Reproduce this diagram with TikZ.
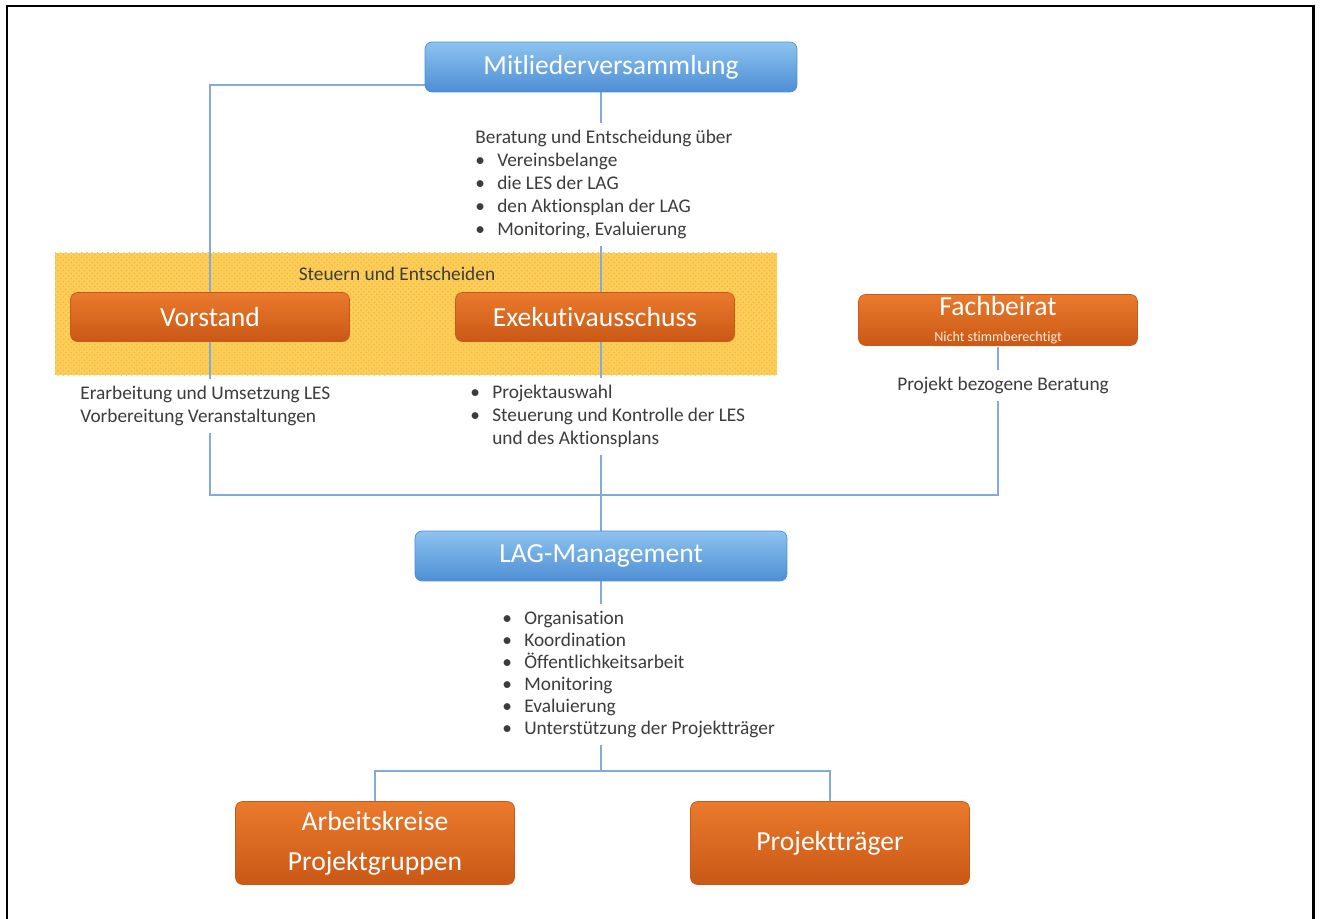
\documentclass[tikz,border=0pt]{standalone}
\usepackage{fontspec}
\setmainfont{Carlito}[Ligatures=CommonOff]
\usetikzlibrary{positioning,patterns}
\pgfdeclarelayer{back}
\pgfdeclarelayer{lines}
\pgfsetlayers{back,lines,main}
\definecolor{linkblue}{RGB}{130,170,218}
\definecolor{blueTop}{RGB}{140,195,240}
\definecolor{blueBot}{RGB}{78,142,212}
\definecolor{orangeTop}{RGB}{234,122,44}
\definecolor{orangeBot}{RGB}{202,88,22}
\definecolor{steuerGelb}{RGB}{250,206,88}
\definecolor{infoGray}{RGB}{60,60,60}
\newcommand{\bul}{\makebox[12.5pt][l]{\textbullet}}
\begin{document}
\begin{tikzpicture}[x=0.02cm, y=-0.02cm,
  box node/.style={rounded corners=4pt, inner sep=0pt, text=white, align=center, font=\fontsize{15.7}{23}\selectfont},
  blue node/.style={box node, top color=blueTop, bottom color=blueBot, draw=blueBot, minimum width=7.44cm, minimum height=1cm},
  orange node/.style={box node, top color=orangeTop, bottom color=orangeBot, draw=orangeBot, minimum width=5.58cm, minimum height=0.98cm},
  info/.style={font=\fontsize{11}{13.1}\selectfont, text=infoGray, align=left, fill=white, inner sep=4pt, anchor=north west},
  conn/.style={draw=linkblue, line width=0.7pt}]
\useasboundingbox (0,0) rectangle (1320,919);
\draw[line width=1.7pt] (7,919) -- (7,6) -- (1313,6) -- (1313,919);

% Steuern und Entscheiden
\begin{pgfonlayer}{back}
\fill[steuerGelb] (55,253) rectangle (777,375);
\fill[pattern=crosshatch dots, pattern color=orange!30!steuerGelb] (55,253) rectangle (777,375);
\end{pgfonlayer}
\node[font=\fontsize{11}{13}\selectfont, text=infoGray] (steuern) at (397,274) {Steuern und Entscheiden};

\node [blue node] (mv) at (611,67) {Mitliederversammlung};
\node [orange node] (vor) at (210,317) {Vorstand};
\node [orange node] (exa) at (595,317) {Exekutivausschuss};
\node [orange node, minimum height=1.02cm] (fb) at (998,320) {};
\node [text=white, font=\fontsize{15.7}{17}\selectfont, inner sep=0pt] (fbname) at (998,306) {Fachbeirat};
\node [text=white!85!orange, font=\fontsize{8}{9}\selectfont, inner sep=0pt] (fbnote) at (998,340) {\underline{Nicht stimmberechtigt}};
\node [blue node] (lag) at (601,556) {LAG-Management};
\node [orange node, minimum height=1.66cm] (ak) at (375,843) {Arbeitskreise\\Projektgruppen};
\node [orange node, minimum height=1.66cm] (pt) at (830,843) {Projektträger};

\node[info] (mvtxt) at (468,123) {Beratung und Entscheidung über\\
  \bul Vereinsbelange\\
  \bul die LES der LAG\\
  \bul den Aktionsplan der LAG\\
  \bul Monitoring, Evaluierung};
\node[info] (vortxt) at (73,379) {Erarbeitung und Umsetzung LES\\Vorbereitung Veranstaltungen};
\node[info] (exatxt) at (463,378) {\bul Projektauswahl\\
  \bul Steuerung und Kontrolle der LES\\
  \hspace*{12.5pt}und des Aktionsplans};
\node[info, anchor=north] (fbtxt) at (1003,370) {Projekt bezogene Beratung};
\node[info, font=\fontsize{11}{12.5}\selectfont] (lagtxt) at (495,604) {\bul Organisation\\
  \bul Koordination\\
  \bul Öffentlichkeitsarbeit\\
  \bul Monitoring\\
  \bul Evaluierung\\
  \bul Unterstützung der Projektträger};

\coordinate (mvl) at (425,85);
\coordinate (bus) at (601,495);
\coordinate (split) at (601,771);
\begin{pgfonlayer}{lines}
\path[conn]
	(mvl) -| (vor.north) -- (vor.south) |- (bus) -| (fb.south)
	(lag.north |- mv.south) -- (lag.north)
	(lag.south) -- (split)
	(ak.north) |- (split) -| (pt.north)
	;
\end{pgfonlayer}
\end{tikzpicture}
\end{document}
